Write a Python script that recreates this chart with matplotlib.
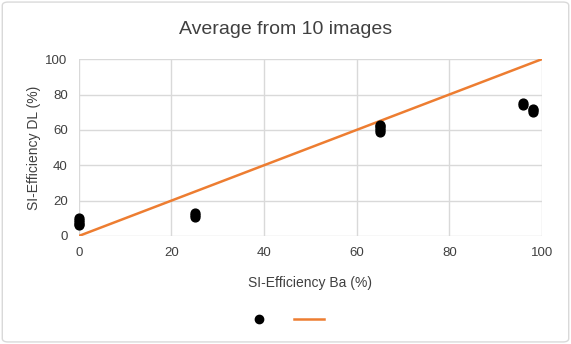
import matplotlib.pyplot as plt
import numpy as np
from matplotlib.patches import FancyBboxPatch
from matplotlib.lines import Line2D

# data
ba_eff = [0, 0, 0, 0, 0, 25, 25, 25, 65, 65, 65, 65, 65, 96, 96, 98, 98, 98]
dl_eff = [6, 7, 8, 9, 10, 11, 12, 13, 59, 60, 61, 62, 63, 74, 75, 70, 71, 72]
line_x = [0, 100]
line_y = [0, 100]
ticks = [0, 20, 40, 60, 80, 100]

plt.rcParams['font.family'] = ['Liberation Sans', 'DejaVu Sans']

fig = plt.figure(figsize=(5.71, 3.44), dpi=100)
ax = fig.add_axes([0.138, 0.314, 0.811, 0.514])

# rounded border round the chart
fig.patches.append(FancyBboxPatch((0.004, 0.006), 0.992, 0.988,
                                  boxstyle="round,pad=0,rounding_size=0.01",
                                  transform=fig.transFigure, fill=False,
                                  edgecolor='#d9d9d9', linewidth=1))

ax.scatter(ba_eff, dl_eff, s=40, color='black', zorder=3, clip_on=False)
ax.plot(line_x, line_y, color='#ED7D31', linewidth=1.8, zorder=2)

ax.set_xlim(0, 100)
ax.set_ylim(0, 100)
ax.set_xticks(ticks)
ax.set_yticks(ticks)
ax.grid(True, color='#d9d9d9', linewidth=1)
ax.set_axisbelow(True)
for s in ax.spines.values():
    s.set_visible(False)
ax.tick_params(length=0, labelsize=9.5, colors='#404040', pad=8)

ax.set_xlabel('SI-Efficiency Ba (%)', fontsize=10, color='#404040', labelpad=12)
ax.set_ylabel('SI-Efficiency DL (%)', fontsize=10, color='#404040', labelpad=3)
fig.text(0.5, 0.915, 'Average from 10 images', ha='center', va='center',
         fontsize=14, color='#404040')

handles = [Line2D([], [], marker='o', color='black', linestyle='none', markersize=6),
           Line2D([], [], color='#ED7D31', linewidth=1.8)]
fig.legend(handles, ['', ''], loc='center', bbox_to_anchor=(0.507, 0.07), ncol=2,
           frameon=False, handlelength=2.2, columnspacing=0.6)

fig.savefig('out.png', dpi=100)
